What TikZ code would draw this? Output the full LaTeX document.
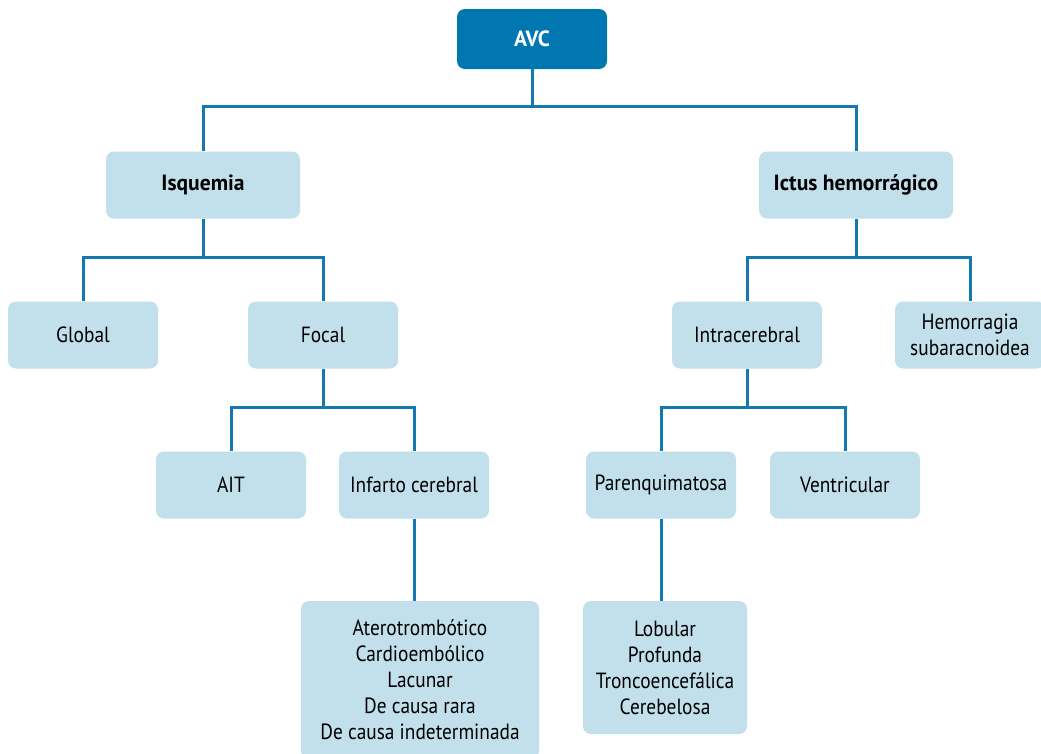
\documentclass[tikz,border=0pt]{standalone}
\usepackage{fontspec}
\setmainfont{PT Sans}[FakeStretch=0.88, BoldFeatures={FakeStretch=0.98}]
\definecolor{darkblue}{HTML}{0077B0}
\definecolor{lightblue}{HTML}{C2DFEC}
\definecolor{linecol}{HTML}{1579B1}
\begin{document}
\begin{tikzpicture}[x=1pt,y=-1pt,
  box/.style={rectangle, rounded corners=8pt, fill=lightblue, inner sep=0pt,
    align=center, font=\fontsize{22}{26}\selectfont, text=black,
    minimum width=150pt, minimum height=67pt},
  boldbox/.style={box, font=\fontsize{22}{26}\selectfont\bfseries, minimum width=194pt},
  topbox/.style={box, fill=darkblue, text=white, font=\fontsize{22}{26}\selectfont\bfseries,
    minimum width=150pt, minimum height=60pt},
  conn/.style={draw=linecol, line width=3pt}]
\useasboundingbox (0,0) rectangle (1041,753);
\node[topbox] (avc) at (532,39) {AVC};
\node[boldbox] (isq) at (203,185) {Isquemia};
\node[boldbox] (ict) at (856,185) {Ictus hemorrágico};
\node[box] (glo) at (83,335) {Global};
\node[box] (foc) at (323,335) {Focal};
\node[box] (intra) at (747,335) {Intracerebral};
\node[box] (hem) at (970,335) {Hemorragia\\subaracnoidea};
\node[box] (ait) at (231,485) {AIT};
\node[box] (inf) at (414,485) {Infarto cerebral};
\node[box] (par) at (661,485) {Parenquimatosa};
\node[box] (ven) at (845,485) {Ventricular};
\node[box, minimum width=238pt, minimum height=158pt] (ate) at (420,680)
  {Aterotrombótico\\Cardioembólico\\Lacunar\\De causa rara\\De causa indeterminada};
\node[box, minimum width=164pt, minimum height=133pt] (lob) at (665,667.5)
  {Lobular\\Profunda\\Troncoencefálica\\Cerebelosa};
\coordinate (b1) at (0,106);
\coordinate (b2) at (0,257);
\coordinate (b3) at (0,407);
\draw[conn] (avc.south) -- (avc.south|-b1) -| (isq.north);
\draw[conn] (avc.south|-b1) -| (ict.north);
\draw[conn] (isq.south) -- (isq.south|-b2) -| (glo.north);
\draw[conn] (isq.south|-b2) -| (foc.north);
\draw[conn] (ict.south) -- (ict.south|-b2) -| (intra.north);
\draw[conn] (ict.south|-b2) -| (hem.north);
\draw[conn] (foc.south) -- (foc.south|-b3) -| (ait.north);
\draw[conn] (foc.south|-b3) -| (inf.north);
\draw[conn] (intra.south) -- (intra.south|-b3) -| (par.north);
\draw[conn] (intra.south|-b3) -| (ven.north);
\draw[conn] (inf.south) -- (inf.south|-ate.north);
\draw[conn] (par.south) -- (par.south|-lob.north);
\end{tikzpicture}
\end{document}
